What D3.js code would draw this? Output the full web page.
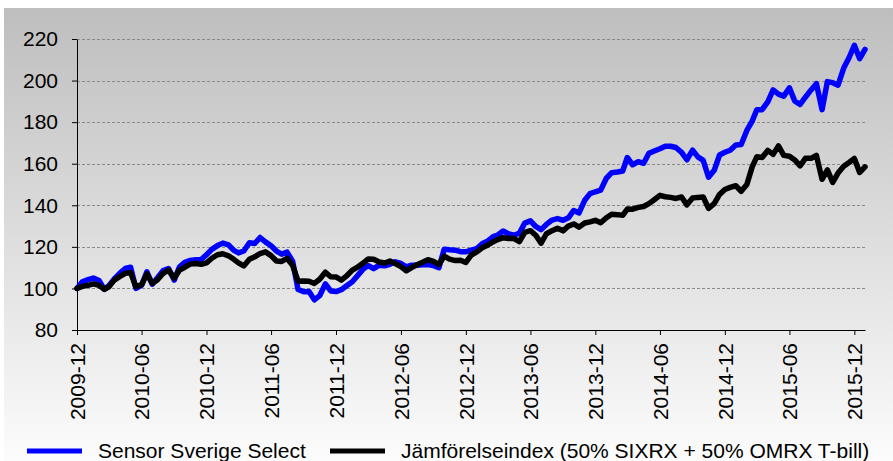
<!DOCTYPE html>
<html>
<head>
<meta charset="utf-8">
<script src="https://cdn.jsdelivr.net/npm/d3@7"></script>
<style>
	body { margin: 0; background: #fff; }
	svg { display: block; font-family: Arial, "Liberation Sans", sans-serif; }
	.axis text { font-size: 21px; fill: #000; }
	.axis path, .axis line { stroke: #000; }
	.grid line { stroke: #8a8a8a; stroke-dasharray: 3 2; }
	.legend text { font-size: 21px; fill: #000; }
</style>
</head>
<body>
<script>
// semi-monthly readings, indexed 2009-12 = 100
const DATES = [
	"2009-12-01", "2009-12-16", "2010-01-01", "2010-01-16", "2010-02-01", "2010-02-16", "2010-03-01", "2010-03-16",
	"2010-04-01", "2010-04-16", "2010-05-01", "2010-05-16", "2010-06-01", "2010-06-16", "2010-07-01", "2010-07-16",
	"2010-08-01", "2010-08-16", "2010-09-01", "2010-09-16", "2010-10-01", "2010-10-16", "2010-11-01", "2010-11-16",
	"2010-12-01", "2010-12-16", "2011-01-01", "2011-01-16", "2011-02-01", "2011-02-16", "2011-03-01", "2011-03-16",
	"2011-04-01", "2011-04-16", "2011-05-01", "2011-05-16", "2011-06-01", "2011-06-16", "2011-07-01", "2011-07-16",
	"2011-08-01", "2011-08-16", "2011-09-01", "2011-09-16", "2011-10-01", "2011-10-16", "2011-11-01", "2011-11-16",
	"2011-12-01", "2011-12-16", "2012-01-01", "2012-01-16", "2012-02-01", "2012-02-16", "2012-03-01", "2012-03-16",
	"2012-04-01", "2012-04-16", "2012-05-01", "2012-05-16", "2012-06-01", "2012-06-16", "2012-07-01", "2012-07-16",
	"2012-08-01", "2012-08-16", "2012-09-01", "2012-09-16", "2012-10-01", "2012-10-16", "2012-11-01", "2012-11-16",
	"2012-12-01", "2012-12-16", "2013-01-01", "2013-01-16", "2013-02-01", "2013-02-16", "2013-03-01", "2013-03-16",
	"2013-04-01", "2013-04-16", "2013-05-01", "2013-05-16", "2013-06-01", "2013-06-16", "2013-07-01", "2013-07-16",
	"2013-08-01", "2013-08-16", "2013-09-01", "2013-09-16", "2013-10-01", "2013-10-16", "2013-11-01", "2013-11-16",
	"2013-12-01", "2013-12-16", "2014-01-01", "2014-01-16", "2014-02-01", "2014-02-16", "2014-03-01", "2014-03-16",
	"2014-04-01", "2014-04-16", "2014-05-01", "2014-05-16", "2014-06-01", "2014-06-16", "2014-07-01", "2014-07-16",
	"2014-08-01", "2014-08-16", "2014-09-01", "2014-09-16", "2014-10-01", "2014-10-16", "2014-11-01", "2014-11-16",
	"2014-12-01", "2014-12-16", "2015-01-01", "2015-01-16", "2015-02-01", "2015-02-16", "2015-03-01", "2015-03-16",
	"2015-04-01", "2015-04-16", "2015-05-01", "2015-05-16", "2015-06-01", "2015-06-16", "2015-07-01", "2015-07-16",
	"2015-08-01", "2015-08-16", "2015-09-01", "2015-09-16", "2015-10-01", "2015-10-16", "2015-11-01", "2015-11-16",
	"2015-12-01", "2015-12-16", "2015-12-31",
];

const SENSOR = [
	100, 103.2, 104.2, 105, 103.8, 99.5, 101.3, 104.6,
	107.4, 109.6, 110.2, 100, 101.5, 108, 102, 105.2,
	108.6, 109.6, 104, 110.4, 112.6, 113.5, 113.8, 113.9,
	116.2, 118.8, 120.6, 121.8, 121, 118.3, 117.1, 118,
	122, 121.6, 124.5, 122.4, 120.5, 118, 116.5, 117.5,
	113, 99.5, 98.4, 98.5, 94.5, 96.5, 102.2, 98.8,
	98.5, 99.4, 101.4, 103.2, 106.4, 109.4, 111, 109.5,
	111.2, 110.9, 111.6, 112.8, 112, 110.4, 111.2, 111.2,
	111.4, 111.5, 111, 110, 118.9, 118.6, 118.4, 117.7,
	117.6, 118.4, 119.2, 121.5, 122.9, 124.9, 125.7, 127.6,
	126.2, 125.6, 126.6, 131.4, 132.5, 129.8, 128.3, 130.8,
	132.9, 133.6, 132.8, 134, 137.5, 136.3, 142.4, 145.6,
	146.5, 147.3, 153, 155.7, 156, 156.5, 163, 159.5,
	161, 160.2, 165, 166.1, 167.2, 168.4, 168.4, 167.8,
	165.5, 161.9, 166.5, 163.3, 161.6, 153.5, 156.8, 164.2,
	165.5, 166.5, 169, 169.2, 176, 180.5, 186, 186,
	189.8, 195.5, 193.5, 192.5, 196.5, 190.2, 188.5, 192,
	195.5, 198.5, 186, 199.5, 199, 197.8, 206, 211,
	217, 210.5, 215,
];

const BENCHMARK = [
	100, 101, 101.5, 102.2, 101.5, 99.6, 100.8, 104,
	105.8, 107.3, 107.6, 100.8, 101.8, 107, 102.4, 104.2,
	107.3, 108.8, 105, 108.8, 110.2, 111.7, 112, 111.6,
	112.3, 114.5, 116.2, 116.7, 115.7, 114, 112.3, 110.8,
	114, 115.2, 116.8, 117.6, 115.8, 113.2, 113, 114.5,
	111, 103.5, 103.6, 103.5, 102.4, 104.4, 107.8, 105.6,
	105.5, 104, 106.2, 108.8, 110.4, 112.3, 114.2, 114,
	112.7, 112.2, 113.2, 112, 110.5, 108.5, 110, 111.4,
	112.6, 113.8, 113, 111.5, 115.5, 114.1, 113.4, 113.6,
	112.5, 116, 117.6, 119.5, 120.9, 122.4, 123.5, 124.4,
	124, 124, 122.5, 127, 127.8, 125.6, 121.8, 126.3,
	127.8, 129, 127.7, 130, 131, 129.5, 131.5, 132,
	132.8, 131.6, 134, 135.7, 135.5, 135.2, 138.2, 138.1,
	139, 139.4, 140.8, 142.7, 144.8, 144.1, 143.8, 143.3,
	144, 140.2, 143.5, 143.8, 144, 138.5, 140.8, 145.2,
	147.6, 148.6, 149.4, 146.7, 150, 158.5, 163.3, 163,
	166.4, 164.5, 168.6, 164, 163.6, 161.8, 159, 162.6,
	162.6, 164, 152.5, 157, 151, 155.5, 158.8, 160.6,
	162.5, 155.8, 158.5,
];

const Y_TICKS = [80, 100, 120, 140, 160, 180, 200, 220];
const X_TICKS = [
	"2009-12", "2010-06", "2010-12", "2011-06", "2011-12", "2012-06", "2012-12",
	"2013-06", "2013-12", "2014-06", "2014-12", "2015-06", "2015-12",
];
const SERIES_NAMES = ["Sensor Sverige Select", "Jämförelseindex (50% SIXRX + 50% OMRX T-bill)"];
const SERIES_COLORS = ["#0000ff", "#000000"];

const width = 893;
const height = 461;
const plot = { left: 77, right: 865, top: 39, bottom: 330 };

const parseDay = d3.timeParse("%Y-%m-%d");
const parseMonth = d3.timeParse("%Y-%m");
const dates = DATES.map(parseDay);

let series = [SENSOR, BENCHMARK].map((values, i) => ({
	name: SERIES_NAMES[i],
	color: SERIES_COLORS[i],
	points: values.map((v, j) => ({ date: dates[j], value: v })),
}));

let x = d3.scaleTime()
	.domain(d3.extent(dates))
	.range([plot.left, plot.right]);
let y = d3.scaleLinear()
	.domain([d3.min(Y_TICKS), d3.max(Y_TICKS)])
	.range([plot.bottom, plot.top]);

let svg = d3.select("body")
	.append("svg")
		.attr("width", width)
		.attr("height", height);

// chart area fill: grey at the top fading to white
let gradient = svg.append("defs")
	.append("linearGradient")
		.attr("id", "bg")
		.attr("x1", 0).attr("y1", 0)
		.attr("x2", 0).attr("y2", 1);
gradient.append("stop").attr("offset", "0%").attr("stop-color", "#bebebe");
gradient.append("stop").attr("offset", "100%").attr("stop-color", "#fcfcfc");

svg.append("rect")
	.attr("x", 4)
	.attr("y", 8)
	.attr("width", width - 4)
	.attr("height", height - 8)
	.attr("fill", "url(#bg)");

svg.append("g")
	.attr("class", "grid")
	.selectAll("line")
		.data(Y_TICKS.filter(v => v > y.domain()[0]))
		.enter()
		.append("line")
			.attr("x1", plot.left)
			.attr("x2", plot.right)
			.attr("y1", d => Math.round(y(d)) + 0.5)
			.attr("y2", d => Math.round(y(d)) + 0.5);

svg.append("g")
	.attr("class", "axis y")
	.attr("transform", `translate(${plot.left}, 0)`)
	.call(d3.axisLeft(y).tickValues(Y_TICKS).tickSize(5).tickSizeOuter(0).tickPadding(14));

let axisX = svg.append("g")
	.attr("class", "axis x")
	.attr("transform", `translate(0, ${plot.bottom})`)
	.call(d3.axisBottom(x)
		.tickValues(X_TICKS.map(parseMonth))
		.tickFormat(d3.timeFormat("%Y-%m"))
		.tickSize(5)
		.tickSizeOuter(0));
axisX.selectAll(".tick text")
	.attr("transform", "rotate(-90)")
	.attr("text-anchor", "end")
	.attr("x", -13)
	.attr("y", 0)
	.attr("dy", "0.35em");

let line = d3.line()
	.x(d => x(d.date))
	.y(d => y(d.value));

svg.append("g")
	.attr("class", "lines")
	.selectAll("path")
		.data(series)
		.enter()
		.append("path")
			.attr("fill", "none")
			.attr("stroke", d => d.color)
			.attr("stroke-width", 5.5)
			.attr("stroke-linejoin", "round")
			.attr("stroke-linecap", "round")
			.attr("d", d => line(d.points));

let legendX = [27, 330];
let legendItems = svg.append("g")
	.attr("class", "legend")
	.selectAll("g")
		.data(series)
		.enter()
		.append("g")
			.attr("transform", (d, i) => `translate(${legendX[i]}, 451)`);
legendItems.append("line")
	.attr("x2", 55)
	.attr("stroke", d => d.color)
	.attr("stroke-width", 5);
legendItems.append("text")
	.attr("x", 71)
	.attr("y", 7)
	.text(d => d.name);
</script>
</body>
</html>
